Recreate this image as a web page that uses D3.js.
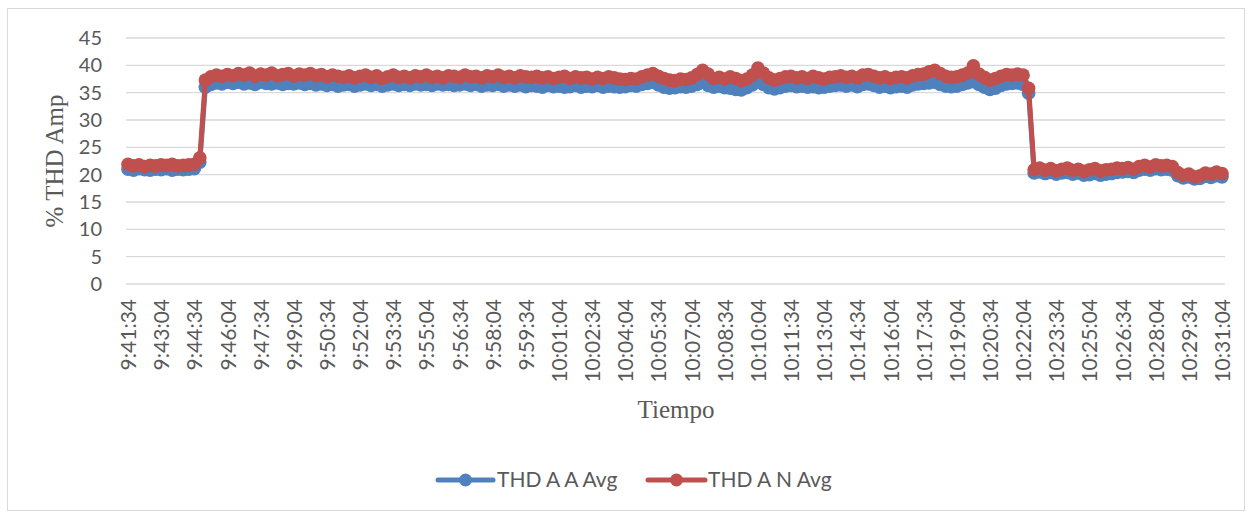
<!DOCTYPE html>
<html>
<head>
<meta charset="utf-8">
<script src="https://cdn.jsdelivr.net/npm/d3@7/dist/d3.min.js"></script>
<style>
  html, body { margin: 0; padding: 0; background: #fff; }
  svg { display: block; }
</style>
</head>
<body>
<svg id="chart" width="1252" height="512"></svg>
<script>
// ---- Data (sampled every 15 s from 9:41:34 to 10:31:04) ----
const startTime = "9:41:34";
const stepSeconds = 15;

const tickLabels = ["9:41:34","9:43:04","9:44:34","9:46:04","9:47:34","9:49:04","9:50:34","9:52:04",
  "9:53:34","9:55:04","9:56:34","9:58:04","9:59:34","10:01:04","10:02:34","10:04:04","10:05:34",
  "10:07:04","10:08:34","10:10:04","10:11:34","10:13:04","10:14:34","10:16:04","10:17:34","10:19:04",
  "10:20:34","10:22:04","10:23:34","10:25:04","10:26:34","10:28:04","10:29:34","10:31:04"];

const yTicks = [0, 5, 10, 15, 20, 25, 30, 35, 40, 45];

const seriesNames = ["THD A A Avg", "THD A N Avg"];
const seriesColors = ["#4F81BD", "#C0504D"];

const thdAA = [
  21.0, 20.8, 21.1, 20.9, 20.8, 21.0, 20.9, 21.1, 20.8, 21.0,
  20.9, 21.0, 21.1, 22.3, 36.0, 36.5, 36.8, 36.6, 36.9, 36.7,
  36.9, 36.6, 36.8, 36.5, 36.9, 36.7, 36.6, 36.8, 36.5, 36.7,
  36.6, 36.8, 36.5, 36.7, 36.4, 36.6, 36.3, 36.5, 36.2, 36.4,
  36.5, 36.2, 36.4, 36.6, 36.3, 36.5, 36.2, 36.4, 36.6, 36.3,
  36.5, 36.3, 36.6, 36.4, 36.5, 36.3, 36.6, 36.4, 36.5, 36.3,
  36.4, 36.6, 36.3, 36.5, 36.2, 36.4, 36.3, 36.5, 36.2, 36.4,
  36.2, 36.4, 36.1, 36.3, 36.2, 36.0, 36.3, 36.1, 36.2, 36.0,
  36.1, 36.3, 36.0, 36.2, 36.1, 36.3, 36.0, 36.2, 36.1, 36.0,
  36.1, 36.3, 36.2, 36.5, 36.7, 36.9, 36.4, 36.0, 35.8, 35.9,
  36.1, 36.0, 36.2, 36.5, 36.9, 36.3, 36.0, 36.2, 35.9, 35.8,
  35.6, 35.5, 35.9, 36.4, 37.0, 36.5, 35.9, 35.7, 35.9, 36.2,
  36.3, 36.1, 36.2, 36.0, 36.1, 35.9, 36.0, 36.2, 36.3, 36.4,
  36.2, 36.4, 36.1, 36.5, 36.6, 36.3, 36.0, 36.2, 35.9, 36.1,
  36.2, 36.0, 36.4, 36.6, 36.7, 36.8, 36.9, 36.5, 36.2, 36.1,
  36.2, 36.5, 36.8, 37.0, 36.5, 36.0, 35.6, 35.8, 36.3, 36.6,
  36.7, 36.8, 36.5, 34.9, 20.3, 20.5, 20.2, 20.4, 20.1, 20.3,
  20.4, 20.1, 20.3, 19.9, 20.0, 20.2, 19.9, 20.1, 20.2, 20.4,
  20.5, 20.6, 20.4, 20.8, 21.0, 20.8, 21.1, 20.9, 21.0, 20.8,
  19.8, 19.4, 19.6, 19.2, 19.3, 19.7, 19.5, 19.8, 19.6
];

const thdAN = [
  21.9, 21.6, 21.8, 21.5, 21.7, 21.6, 21.8, 21.7, 21.9, 21.6,
  21.7, 21.8, 21.9, 23.1, 37.3, 37.9, 38.2, 38.0, 38.3, 38.1,
  38.5, 38.2, 38.6, 38.0, 38.4, 38.2, 38.6, 38.1, 38.3, 38.5,
  38.0, 38.4, 38.2, 38.5, 38.1, 38.3, 37.9, 38.2, 38.0, 37.8,
  38.1, 37.7, 38.0, 38.2, 37.8, 38.1, 37.6, 37.9, 38.2, 37.8,
  38.0, 37.7, 38.1, 37.9, 38.2, 37.8, 38.0, 37.7, 38.1, 38.0,
  37.8, 38.2, 37.9, 38.0, 37.7, 38.1, 37.9, 38.2, 37.8, 38.0,
  37.7, 38.1, 37.9, 37.8, 38.0, 37.7, 37.9, 37.6, 37.8, 38.0,
  37.6, 37.9, 37.7, 37.8, 37.5, 37.8, 37.6, 37.9, 37.7, 37.5,
  37.4, 37.6, 37.5, 37.9, 38.2, 38.5, 38.0, 37.6, 37.3, 37.2,
  37.5, 37.4, 37.7, 38.3, 39.1, 38.4, 37.6, 37.8, 37.5, 37.9,
  37.6, 37.2, 37.5, 38.2, 39.5, 38.6, 37.7, 37.3, 37.6, 37.9,
  38.0, 37.7, 37.9, 37.6, 38.0, 37.7, 37.5, 37.8, 37.9, 38.1,
  37.8, 38.0, 37.7, 38.2, 38.3, 38.0, 37.7, 37.9, 37.6, 37.8,
  37.9, 37.7, 38.1, 38.3, 38.4, 38.8, 39.1, 38.5, 38.0, 37.8,
  37.9, 38.2, 38.6, 39.9, 38.4, 37.8, 37.3, 37.6, 38.0, 38.3,
  38.2, 38.4, 38.2, 35.8, 20.9, 21.2, 20.8, 21.1, 20.7, 21.0,
  21.2, 20.8, 21.0, 20.6, 20.9, 21.1, 20.7, 20.9, 21.0, 21.2,
  21.1, 21.3, 21.0, 21.5, 21.7, 21.4, 21.8, 21.6, 21.7, 21.5,
  20.4, 19.9, 20.1, 19.6, 19.8, 20.3, 20.1, 20.5, 20.2
];

const xTitle = "Tiempo";
const yTitle = "% THD Amp";

// ---- Build categories (time strings) ----
function toSec(s) { const p = s.split(":").map(Number); return p[0]*3600 + p[1]*60 + p[2]; }
function fmt(sec) {
  const h = Math.floor(sec / 3600), m = Math.floor((sec % 3600) / 60), s = sec % 60;
  return h + ":" + String(m).padStart(2, "0") + ":" + String(s).padStart(2, "0");
}
const t0 = toSec(startTime);
const categories = thdAN.map((_, i) => fmt(t0 + i * stepSeconds));

// ---- Layout ----
const svg = d3.select("#chart");
const plot = { left: 126, right: 1225, top: 38, bottom: 284 };

svg.append("rect").attr("x", 7.5).attr("y", 8.5).attr("width", 1237).attr("height", 502)
  .attr("fill", "#fff").attr("stroke", "#d9d9d9").attr("stroke-width", 1);

const x = d3.scalePoint().domain(categories).range([128, 1222]);
const y = d3.scaleLinear().domain([0, 45]).range([plot.bottom, plot.top]);

const textColor = "#595959";
const sans = "Lato, 'Open Sans', sans-serif";
const serif = "'Liberation Serif', 'Times New Roman', serif";

// gridlines
svg.append("g").selectAll("line").data(yTicks).join("line")
  .attr("x1", plot.left).attr("x2", plot.right)
  .attr("y1", d => y(d)).attr("y2", d => y(d))
  .attr("stroke", "#d9d9d9").attr("stroke-width", 1.3);

// y axis labels
const yAxis = d3.axisLeft(y).tickValues(yTicks).tickSize(0).tickPadding(0);
const gy = svg.append("g").attr("transform", "translate(102,0)").call(yAxis);
gy.select(".domain").remove();
gy.selectAll("text").attr("fill", textColor).style("font-family", sans).style("font-size", "20px");

// x axis labels
const xAxis = d3.axisBottom(x).tickValues(tickLabels).tickSize(0).tickPadding(0);
const gx = svg.append("g").attr("transform", "translate(0," + plot.bottom + ")").call(xAxis);
gx.select(".domain").remove();
gx.selectAll("text")
  .attr("fill", textColor).style("font-family", sans).style("font-size", "21px")
  .attr("text-anchor", "end")
  .attr("transform", "rotate(-90)")
  .attr("x", -15).attr("y", 0).attr("dy", "0.36em");

// axis titles
svg.append("text").attr("transform", "translate(63,161) rotate(-90)")
  .attr("text-anchor", "middle").attr("fill", textColor)
  .style("font-family", serif).style("font-size", "25px").text(yTitle);
svg.append("text").attr("x", 676).attr("y", 418)
  .attr("text-anchor", "middle").attr("fill", textColor)
  .style("font-family", serif).style("font-size", "25px").text(xTitle);

// series
const series = [thdAA, thdAN];
const line = d3.line().x((d, i) => x(categories[i])).y(d => y(d));
series.forEach((vals, si) => {
  const g = svg.append("g");
  g.append("path").datum(vals).attr("d", line)
    .attr("fill", "none").attr("stroke", seriesColors[si]).attr("stroke-width", 5)
    .attr("stroke-linejoin", "round").attr("stroke-linecap", "round");
  g.selectAll("circle").data(vals).join("circle")
    .attr("cx", (d, i) => x(categories[i])).attr("cy", d => y(d)).attr("r", 6.8)
    .attr("fill", seriesColors[si]);
});

// legend
const legendItems = [
  { x1: 438, x2: 493, tx: 497 },
  { x1: 648, x2: 705, tx: 708 }
];
const ly = 480;
legendItems.forEach((it, i) => {
  const g = svg.append("g");
  g.append("line").attr("x1", it.x1).attr("x2", it.x2).attr("y1", ly).attr("y2", ly)
    .attr("stroke", seriesColors[i]).attr("stroke-width", 5).attr("stroke-linecap", "round");
  g.append("circle").attr("cx", (it.x1 + it.x2) / 2).attr("cy", ly).attr("r", 6.5)
    .attr("fill", seriesColors[i]);
  g.append("text").attr("x", it.tx).attr("y", ly).attr("dy", "0.35em")
    .attr("fill", textColor).style("font-family", sans).style("font-size", "21px")
    .text(seriesNames[i]);
});
</script>
</body>
</html>
